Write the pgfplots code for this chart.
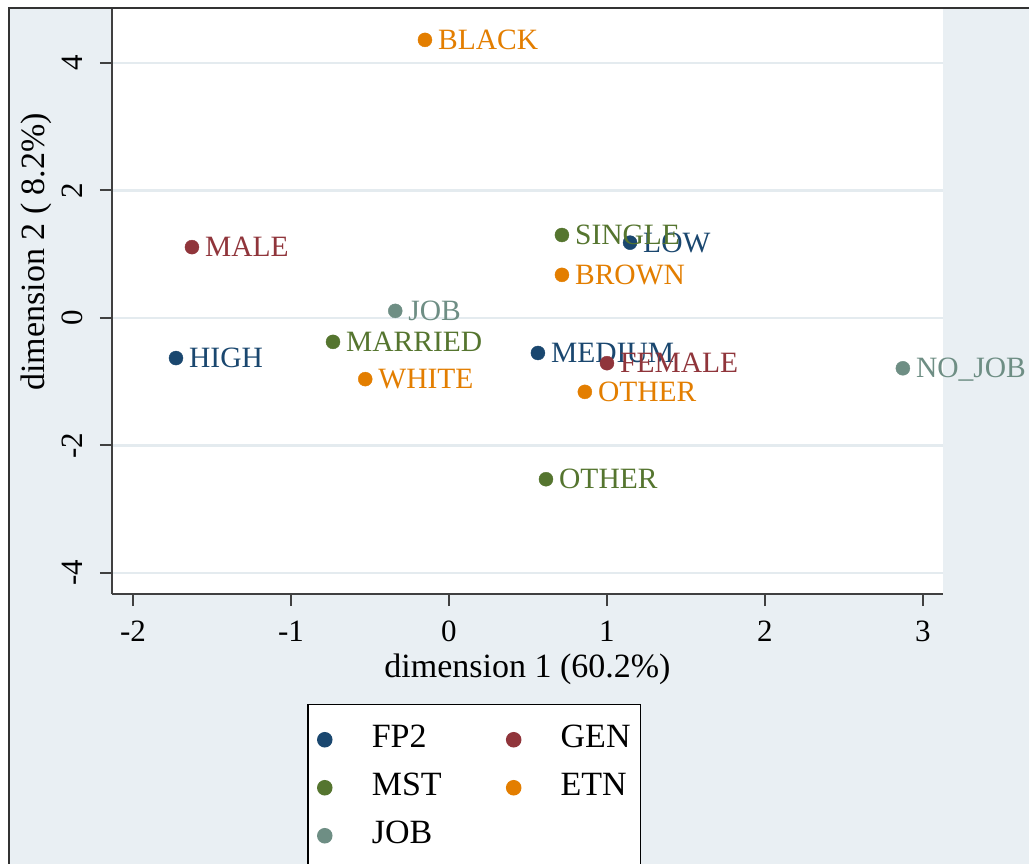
\documentclass[border=0pt]{standalone}
\usepackage{pgfplots}
\pgfplotsset{compat=1.18}
\usepackage{fontspec}
\setmainfont{Liberation Serif}
\definecolor{fp2}{HTML}{1A476F}
\definecolor{gen}{HTML}{90353B}
\definecolor{mst}{HTML}{55752F}
\definecolor{etn}{HTML}{E37E00}
\definecolor{job}{HTML}{6E8E84}
\definecolor{bgc}{HTML}{E9EFF3}
\definecolor{gridc}{HTML}{E4EBEF}
\newcommand{\fs}[1]{\fontsize{#1}{#1}\selectfont}
\begin{document}
\begin{tikzpicture}
\path[use as bounding box, fill=white] (0pt,0pt) rectangle (1029pt,-864pt);
\fill[bgc] (9pt,-8pt) rectangle (1029pt,-864pt);
\begin{axis}[
  at={(112pt,-594pt)}, anchor=south west,
  width=831pt, height=586pt, scale only axis,
  xmin=-2.133, xmax=3.127, ymin=-4.33, ymax=4.86,
  axis background/.style={fill=white},
  axis x line*=bottom, axis y line*=left,
  axis line style={line width=2pt, color=black!75},
  xtick={-2,-1,0,1,2,3}, ytick={-4,-2,0,2,4},
  tick align=outside, major tick length=12pt,
  tick style={line width=2pt, color=black!75},
  ymajorgrids, major grid style={color=gridc, line width=2.5pt},
  /pgf/number format/assume math mode=true,
  xticklabel style={font=\fs{31}, anchor=north, inner sep=0pt, yshift=-15pt},
  yticklabel style={font=\fs{31}, rotate=90, anchor=south, inner sep=0pt, yshift=17pt},
  xlabel={dimension 1 (60.2\%)},
  ylabel={dimension 2 ( 8.2\%)},
  xlabel style={font=\fs{34}, at={(axis description cs:0.5,-0.1280)}, anchor=center},
  ylabel style={font=\fs{34}, at={(axis description cs:-0.0910,0.584)}, anchor=center},
  clip=false,
  every axis plot/.append style={only marks, mark=*, mark size=7pt},
  nodes near coords, point meta=explicit symbolic,
  nodes near coords style={anchor=west, font=\fs{29.5}, inner sep=0pt, xshift=13pt, text height=19pt, text depth=0pt},
  legend columns=2,
  legend cell align=left,
  legend style={at={(axis description cs:0.2347,-0.1877)}, anchor=north west,
    draw=black, line width=1.5pt, fill=white, font=\fs{34},
    inner xsep=10pt, inner ysep=19pt,
    nodes={inner xsep=0pt, inner ysep=0pt, text height=24pt, text depth=8pt},
    row sep=16pt,
    /tikz/every odd column/.append style={column sep=40pt},
    /tikz/every even column/.append style={column sep=65pt}},
]
\addplot[color=fp2, nodes near coords style={text=fp2}] coordinates {
 (-1.728,-0.63) [HIGH] (0.563,-0.55) [MEDIUM] (1.146,1.18) [LOW]};
\addlegendentry{FP2}
\addplot[color=gen, nodes near coords style={text=gen}] coordinates {
 (-1.627,1.11) [MALE] (1.0,-0.71) [FEMALE]};
\addlegendentry{GEN}
\addplot[color=mst, nodes near coords style={text=mst}] coordinates {
 (0.715,1.30) [SINGLE] (-0.734,-0.376) [MARRIED] (0.614,-2.53) [OTHER]};
\addlegendentry{MST}
\addplot[color=etn, nodes near coords style={text=etn}] coordinates {
 (-0.152,4.36) [BLACK] (0.715,0.675) [BROWN] (-0.53,-0.96) [WHITE] (0.86,-1.16) [OTHER]};
\addlegendentry{ETN}
\addplot[color=job, nodes near coords style={text=job}] coordinates {
 (-0.34,0.11) [JOB] (2.873,-0.79) [NO\_JOB]};
\addlegendentry{JOB}
\end{axis}
\draw[line width=2pt, color=black!80] (9pt,-864pt) -- (9pt,-8pt) -- (1029pt,-8pt);
\end{tikzpicture}
\end{document}
